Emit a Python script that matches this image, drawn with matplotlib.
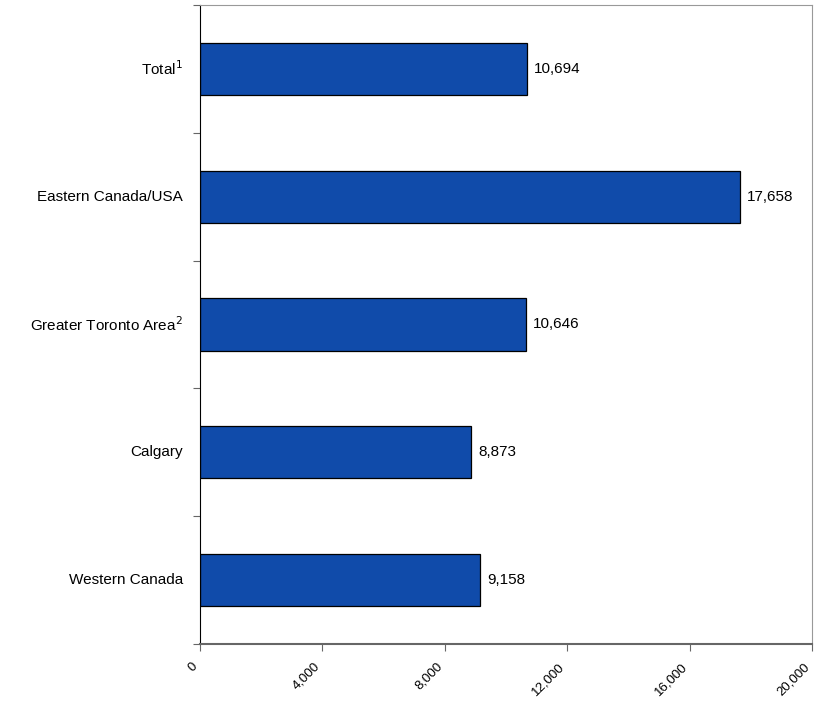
import matplotlib.pyplot as plt
import matplotlib.transforms as mtransforms
import numpy as np

plt.rcParams['font.family'] = ['Liberation Sans', 'DejaVu Sans']

categories = ['Total', 'Eastern Canada/USA', 'Greater Toronto Area', 'Calgary', 'Western Canada']
footnotes = ['1', '', '2', '', '']
values = [10694, 17658, 10646, 8873, 9158]
x_ticks = [0, 4000, 8000, 12000, 16000, 20000]

bar_colour = '#104BAA'
fs = 11

fig = plt.figure(figsize=(8.21, 7.05), dpi=100)
ax = fig.add_axes([199.5 / 821, 61 / 705, 612.5 / 821, 639 / 705])

ys = np.arange(len(categories))
ax.barh(ys, values, height=0.41, color=bar_colour, edgecolor='black', linewidth=0.9)

for y, v in zip(ys, values):
  ax.annotate(f'{v:,}', xy=(v, y), xytext=(5, 0), textcoords='offset points',
              va='center', ha='left', fontsize=fs)

ax.set_xlim(0, 20000)
ax.set_ylim(len(categories) - 0.5, -0.5)

ax.set_xticks(x_ticks)
ax.set_xticklabels([f'{t:,}' for t in x_ticks], rotation=45, ha='right', va='center',
                   rotation_mode='anchor', fontsize=9.5)
ax.tick_params(axis='x', length=5, color='#666666', pad=10)
shift = mtransforms.ScaledTranslation(-3 / 72, 0, fig.dpi_scale_trans)
for lbl in ax.get_xticklabels():
  lbl.set_transform(lbl.get_transform() + shift)

# y ticks sit on category boundaries, labels at centres
ax.set_yticks(np.arange(len(categories) + 1) - 0.5)
ax.set_yticklabels([])
ax.tick_params(axis='y', length=5, color='#666666')
for y, name, fn in zip(ys, categories, footnotes):
  label = name + (f'$^{{{fn}}}$' if fn else '')
  ax.annotate(label, xy=(0, y), xycoords=ax.get_yaxis_transform(),
              xytext=(-12, 0), textcoords='offset points',
              ha='right', va='center', fontsize=fs)

ax.spines['left'].set_color('black')
ax.spines['bottom'].set_color('#666666')
ax.spines['bottom'].set_linewidth(1.5)
ax.spines['top'].set_color('#999999')
ax.spines['right'].set_color('#999999')

plt.savefig('out.png', dpi=100)
